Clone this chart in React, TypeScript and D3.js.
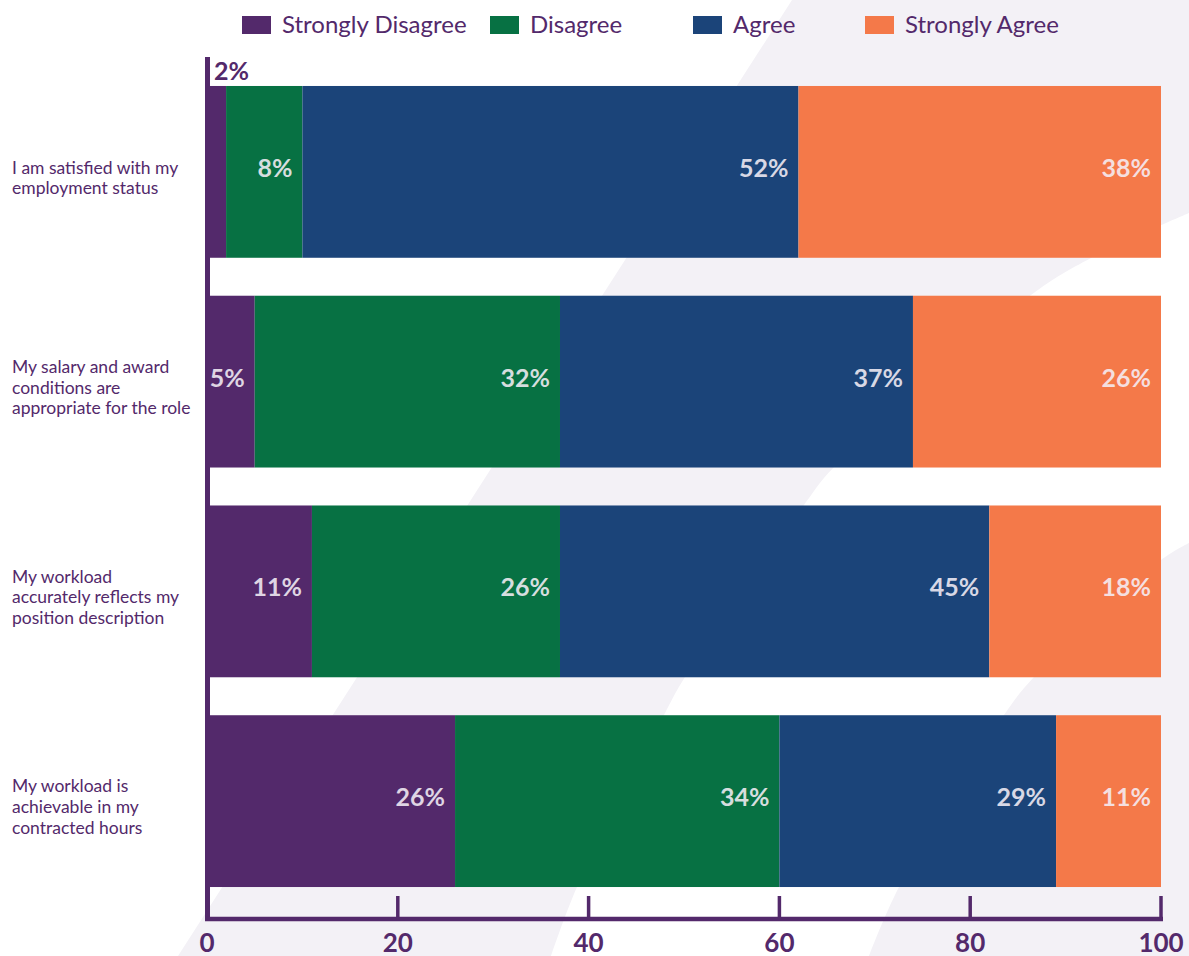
import React from "react";
import * as d3 from "d3";

const categories = [
  "I am satisfied with my employment status",
  "My salary and award conditions are appropriate for the role",
  "My workload accurately reflects my position description",
  "My workload is achievable in my contracted hours",
];
const categoryLines = [
  ["I am satisfied with my", "employment status"],
  ["My salary and award", "conditions are", "appropriate for the role"],
  ["My workload", "accurately reflects my", "position description"],
  ["My workload is", "achievable in my", "contracted hours"],
];
const seriesNames = ["Strongly Disagree", "Disagree", "Agree", "Strongly Agree"];
const stronglyDisagree = [2, 5, 11, 26];
const disagree = [8, 32, 26, 34];
const agree = [52, 37, 45, 29];
const stronglyAgree = [38, 26, 18, 11];
const xTicks = [0, 20, 40, 60, 80, 100];

const colors = ["#53296b", "#077143", "#1b4479", "#f47949"];
const PURPLE = "#53296b";
const LAVENDER = "#f3f1f6";
const FONT = "Lato, 'Open Sans', sans-serif";

const W = 1189;
const H = 956;

export default function App() {
  const x = d3.scaleLinear().domain([0, 100]).range([207, 1161]);
  const y = d3
    .scaleBand<string>()
    .domain(categories)
    .range([67, 906])
    .paddingInner(0.181)
    .paddingOuter(0.0905);

  const rows = categories.map((c, i) => {
    const obj: any = { category: c };
    obj[seriesNames[0]] = stronglyDisagree[i];
    obj[seriesNames[1]] = disagree[i];
    obj[seriesNames[2]] = agree[i];
    obj[seriesNames[3]] = stronglyAgree[i];
    return obj;
  });
  const stack = d3.stack<any>().keys(seriesNames)(rows);

  // decorative background bands
  const curve = d3.line().curve(d3.curveCatmullRom.alpha(0.5));
  const edgeA: [number, number][] = [
    [1189, 213], [1091, 258], [1031, 295], [834, 467], [804, 505],
    [685, 677], [664, 715], [577, 887], [551, 956],
  ];
  const bandA = "M792,0L1189,0" + (curve(edgeA) || "").replace(/^M/, "L") + "L178,956Z";
  const edgeB: [number, number][] = [
    [1189, 543], [1161, 560], [1034, 677], [1004, 715], [899, 887], [869, 956],
  ];
  const bandB = (curve(edgeB) || "") + "L1189,956Z";

  const legendX = [242, 490, 693, 865];
  const labelOffset = 12;
  const lineH = 20.7;
  const bw = y.bandwidth();

  return (
    <div style={{ position: "absolute", left: 0, top: 0 }}>
      <svg width={W} height={H} style={{ display: "block", background: "#ffffff" }}>
        <path d={bandA} fill={LAVENDER} />
        <path d={bandB} fill={LAVENDER} />

        {/* legend */}
        {seriesNames.map((s, i) => (
          <g key={s}>
            <rect x={legendX[i]} y={16} width={29} height={18} fill={colors[i]} />
            <text
              x={legendX[i] + 40}
              y={33}
              fontFamily={FONT}
              fontSize={24}
              fill={PURPLE}
            >
              {s}
            </text>
          </g>
        ))}

        {/* bars */}
        {stack.map((layer, si) => (
          <g key={layer.key}>
            {layer.map((d, i) => {
              const x0 = x(d[0]);
              const x1 = x(d[1]);
              const yy = y(categories[i]) as number;
              return (
                <rect
                  key={i}
                  x={x0}
                  y={yy}
                  width={x1 - x0}
                  height={bw}
                  fill={colors[si]}
                />
              );
            })}
          </g>
        ))}

        {/* value labels */}
        {stack.map((layer) =>
          layer.map((d, i) => {
            const v = d[1] - d[0];
            const yy = y(categories[i]) as number;
            if (v < 4) {
              return (
                <text
                  key={layer.key + i}
                  x={x(d[0]) + 7}
                  y={yy - 6}
                  fontFamily={FONT}
                  fontWeight={700}
                  fontSize={25}
                  fill={PURPLE}
                >
                  {v}%
                </text>
              );
            }
            return (
              <text
                key={layer.key + i}
                x={x(d[1]) - 10}
                y={yy + bw / 2 + 5}
                textAnchor="end"
                fontFamily={FONT}
                fontWeight={700}
                fontSize={25}
                fill="#f4eef6"
                fillOpacity={0.88}
              >
                {v}%
              </text>
            );
          })
        )}

        {/* category labels */}
        {categoryLines.map((lines, i) => {
          const cy = (y(categories[i]) as number) + bw / 2 + labelOffset;
          const first = cy - ((lines.length - 1) / 2) * lineH;
          return (
            <text key={i} fontFamily={FONT} fontSize={17.5} fill={PURPLE}>
              {lines.map((l, j) => (
                <tspan key={j} x={12} y={first + j * lineH}>
                  {l}
                </tspan>
              ))}
            </text>
          );
        })}

        {/* axes */}
        <line x1={207.5} x2={207.5} y1={57} y2={921} stroke={PURPLE} strokeWidth={5} />
        <line x1={205} x2={1163} y1={919} y2={919} stroke={PURPLE} strokeWidth={4.5} />
        {xTicks.map((t) => (
          <g key={t}>
            {t > 0 && (
              <line
                x1={x(t)}
                x2={x(t)}
                y1={896}
                y2={919}
                stroke={PURPLE}
                strokeWidth={3.5}
              />
            )}
            <text
              x={x(t)}
              y={952}
              textAnchor="middle"
              fontFamily={FONT}
              fontWeight={700}
              fontSize={26}
              fill={PURPLE}
            >
              {t}
            </text>
          </g>
        ))}
      </svg>
    </div>
  );
}
